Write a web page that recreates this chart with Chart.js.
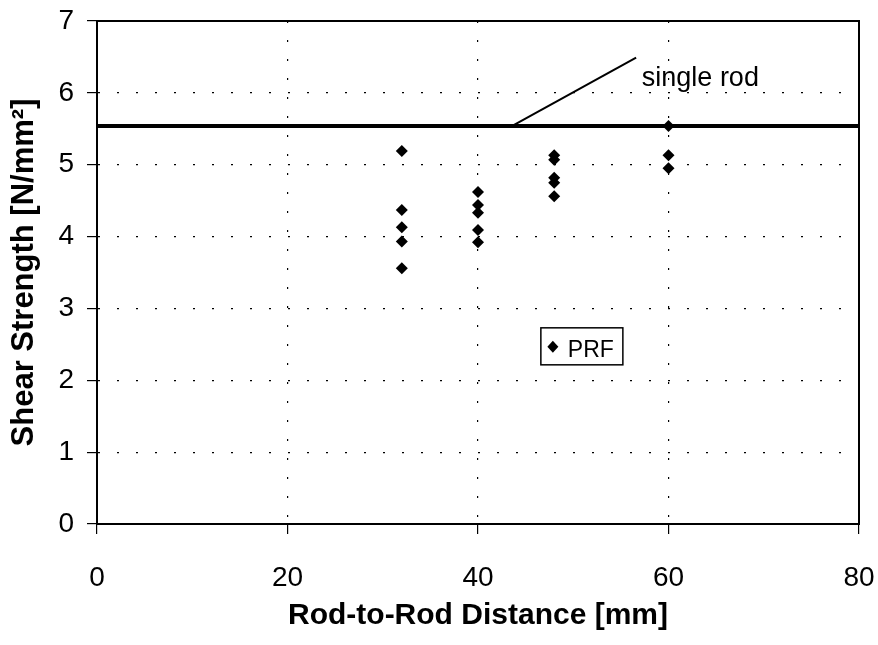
<!DOCTYPE html>
<html>
<head>
<meta charset="utf-8">
<script src="https://cdn.jsdelivr.net/npm/chart.js@4/dist/chart.umd.min.js"></script>
<style>
  html, body { margin: 0; padding: 0; background: #fff; }
  #wrap { width: 878px; height: 645px; }
</style>
</head>
<body>
<div id="wrap"><canvas id="chart"></canvas></div>
<script>
// --- DATA ---
const distances = [32, 32, 32, 32, 32, 40, 40, 40, 40, 40, 48, 48, 48, 48, 48, 60, 60, 60];
const strengths = [5.19, 4.37, 4.13, 3.93, 3.56, 4.62, 4.44, 4.33, 4.09, 3.92, 5.13, 5.07, 4.82, 4.75, 4.56, 5.54, 5.13, 4.95];
const singleRod = 5.54;
const singleRodRange = [0, 80];
const pointerX = [43.6, 56.6];
const pointerY = [5.54, 6.49];
const seriesLabel = 'PRF';
const singleRodLabel = 'single rod';
const xLabel = 'Rod-to-Rod Distance [mm]';
const yLabel = 'Shear Strength [N/mm²]';
const xTicks = [0, 20, 40, 60, 80];
const yTicks = [0, 1, 2, 3, 4, 5, 6, 7];

const FONT = "'Liberation Sans', Arial, sans-serif";

// --- EXTRAS: frame, label, legend box ---
const extras = {
    id: 'extras',
    afterDatasetsDraw(chart) {
        const { ctx, chartArea: a, scales: { x, y } } = chart;
        ctx.save();
        // full box round the plot
        ctx.strokeStyle = '#000';
        ctx.lineWidth = 2;
        ctx.strokeRect(a.left, a.top, a.right - a.left, a.bottom - a.top);

        // "single rod" text next to the pointer
        ctx.fillStyle = '#000';
        ctx.font = '27px ' + FONT;
        ctx.textAlign = 'left';
        ctx.textBaseline = 'alphabetic';
        ctx.fillText(singleRodLabel, x.getPixelForValue(57.2), y.getPixelForValue(6.1));

        // legend box
        const bx = x.getPixelForValue(46.6), by = y.getPixelForValue(2.73);
        ctx.lineWidth = 1.5;
        ctx.strokeRect(bx, by, 82, 37);
        const cx = bx + 12, cy = by + 19;
        ctx.beginPath();
        ctx.moveTo(cx, cy - 6); ctx.lineTo(cx + 5.5, cy); ctx.lineTo(cx, cy + 6); ctx.lineTo(cx - 5.5, cy);
        ctx.closePath();
        ctx.fill();
        ctx.font = '23px ' + FONT;
        ctx.textBaseline = 'middle';
        ctx.fillText(seriesLabel, bx + 27, cy + 4);
        ctx.restore();
    }
};

const tickFont = { family: FONT, size: 28 };

new Chart(document.getElementById('chart'), {
    type: 'scatter',
    data: {
        datasets: [
            {
                label: seriesLabel,
                data: distances.map((d, i) => ({ x: d, y: strengths[i] })),
                pointStyle: 'rectRot',
                pointRadius: 6,
                backgroundColor: '#000',
                borderColor: '#000',
                borderWidth: 0
            },
            {
                label: singleRodLabel,
                data: singleRodRange.map(v => ({ x: v, y: singleRod })),
                showLine: true,
                borderColor: '#000',
                borderWidth: 4,
                pointRadius: 0
            },
            {
                label: 'pointer',
                data: pointerX.map((v, i) => ({ x: v, y: pointerY[i] })),
                showLine: true,
                borderColor: '#000',
                borderWidth: 2,
                pointRadius: 0
            }
        ]
    },
    options: {
        responsive: true,
        maintainAspectRatio: false,
        animation: false,
        layout: { padding: { top: 21, right: 19, left: 0, bottom: 0 } },
        plugins: { legend: { display: false }, tooltip: { enabled: false } },
        scales: {
            x: {
                type: 'linear',
                min: xTicks[0],
                max: xTicks[xTicks.length - 1],
                afterBuildTicks: s => { s.ticks = xTicks.map(v => ({ value: v })); },
                afterFit: s => { s.height = 121; s.paddingLeft = 0; s.paddingRight = 0; },
                ticks: { color: '#000', font: tickFont, padding: 27, maxRotation: 0 },
                grid: { color: '#000', lineWidth: 1.2, tickLength: 10, tickColor: '#000' },
                border: { color: '#000', width: 2, dash: [2, 17] },
                title: { display: true, text: xLabel, color: '#000', font: { family: FONT, size: 30, weight: 'bold' }, padding: { top: 0, bottom: 11 } }
            },
            y: {
                type: 'linear',
                min: yTicks[0],
                max: yTicks[yTicks.length - 1],
                afterBuildTicks: s => { s.ticks = yTicks.map(v => ({ value: v })); },
                afterFit: s => { s.width = 97; s.paddingTop = 0; s.paddingBottom = 0; },
                ticks: { color: '#000', font: tickFont, padding: 13 },
                grid: { color: '#000', lineWidth: 1.2, tickLength: 10, tickColor: '#000' },
                border: { color: '#000', width: 2, dash: [2, 17] },
                title: { display: true, text: yLabel, color: '#000', font: { family: FONT, size: 31, weight: 'bold' }, padding: { top: 6, bottom: 0 } }
            }
        }
    },
    plugins: [extras]
});
</script>
</body>
</html>
